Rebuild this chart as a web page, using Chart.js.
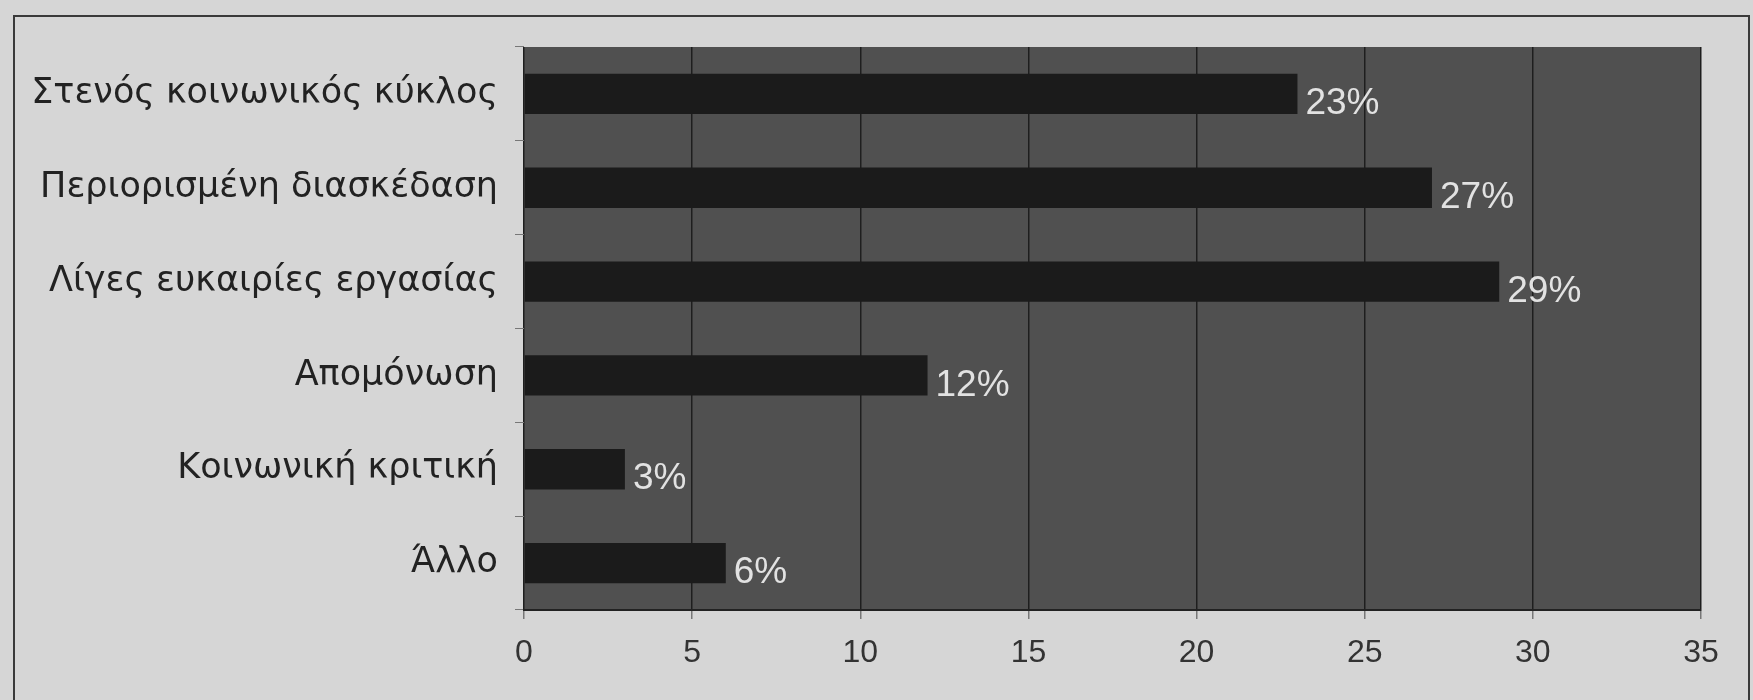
<!DOCTYPE html>
<html>
<head>
<meta charset="utf-8">
<script src="https://cdn.jsdelivr.net/npm/chart.js@4"></script>
<style>
    html, body { margin: 0; padding: 0; background: #d6d6d6; overflow: hidden; }
    #wrap { position: relative; width: 1753px; height: 700px; }
    #frame { position: absolute; left: 13px; top: 15px; width: 1733px; height: 720px; border: 2px solid #3a3a3a; }
    #chart { position: absolute; left: 0; top: 0; }
</style>
</head>
<body>
<div id="wrap">
    <div id="frame"></div>
    <canvas id="chart" width="1753" height="700"></canvas>
</div>
<script>
const categories = ['Στενός κοινωνικός κύκλος', 'Περιορισμένη διασκέδαση', 'Λίγες ευκαιρίες εργασίας', 'Απομόνωση', 'Κοινωνική κριτική', 'Άλλο'];
const values = [23, 27, 29, 12, 3, 6];
const xMin = 0;
const xMax = 35;
const xStep = 5;

// γκρι φόντο στην περιοχή του γραφήματος
const plotBg = {
    id: 'plotBg',
    beforeDraw(chart) {
        const { ctx, chartArea: a } = chart;
        ctx.save();
        ctx.fillStyle = '#505050';
        ctx.fillRect(a.left, a.top, a.right - a.left, a.bottom - a.top);
        ctx.restore();
    }
};

// ετικέτες ποσοστών δίπλα στις μπάρες
const barLabels = {
    id: 'barLabels',
    afterDatasetsDraw(chart) {
        const ctx = chart.ctx;
        const meta = chart.getDatasetMeta(0);
        ctx.save();
        ctx.font = '37px "Liberation Sans", Arial, sans-serif';
        ctx.fillStyle = '#e2e2e2';
        ctx.textBaseline = 'middle';
        meta.data.forEach((bar, i) => {
            ctx.fillText(values[i] + '%', bar.x + 8, bar.y + 10);
        });
        ctx.restore();
    }
};

new Chart(document.getElementById('chart'), {
    type: 'bar',
    data: {
        labels: categories,
        datasets: [{
            data: values,
            backgroundColor: '#1b1b1b',
            borderWidth: 0,
            barPercentage: 0.43,
            categoryPercentage: 1
        }]
    },
    options: {
        indexAxis: 'y',
        responsive: false,
        animation: false,
        layout: { padding: { top: 47, right: 52, left: 0, bottom: 0 } },
        plugins: { legend: { display: false }, tooltip: { enabled: false } },
        scales: {
            x: {
                min: xMin,
                max: xMax,
                ticks: {
                    stepSize: xStep,
                    color: '#333',
                    padding: 15,
                    font: { size: 32, family: '"Liberation Sans", Arial, sans-serif' }
                },
                grid: { color: '#1e1e1e', lineWidth: 1.5, tickLength: 9, tickColor: '#777' },
                border: { display: true, color: '#222', width: 2 },
                afterFit(scale) { scale.height = 90; }
            },
            y: {
                ticks: {
                    color: '#222',
                    padding: 17,
                    font: { size: 35, family: '"DejaVu Sans", "Liberation Sans", sans-serif' }
                },
                grid: { drawOnChartArea: false, tickLength: 9, tickColor: '#777' },
                border: { display: false },
                afterFit(scale) { scale.width = 524; }
            }
        }
    },
    plugins: [plotBg, barLabels]
});
</script>
</body>
</html>
